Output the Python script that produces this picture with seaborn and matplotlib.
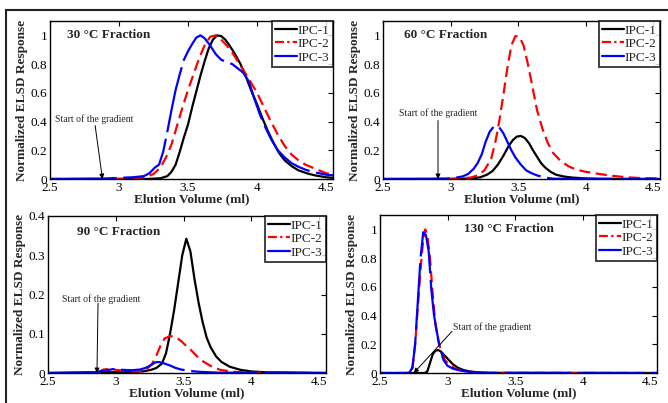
import matplotlib
matplotlib.use("Agg")
import matplotlib.pyplot as plt
from matplotlib.lines import Line2D
from matplotlib.patches import Rectangle
import seaborn as sns

# ---------------- data: elution volume (ml) vs normalized ELSD response ----------------
# 30 °C fraction
f30_ipc1_x = [2.5, 3.0, 3.2, 3.3, 3.35, 3.38, 3.41, 3.44, 3.47, 3.50, 3.53, 3.56, 3.59, 3.62, 3.65, 3.68,
              3.71, 3.74, 3.77, 3.80, 3.84, 3.88, 3.92, 3.96, 4.00, 4.04, 4.08, 4.12, 4.16, 4.20, 4.25,
              4.30, 4.36, 4.42, 4.50, 4.55]
f30_ipc1_y = [0, 0, 0, 0.005, 0.02, 0.05, 0.10, 0.19, 0.29, 0.38, 0.50, 0.61, 0.72, 0.82, 0.91, 0.97,
              1.0, 0.995, 0.97, 0.93, 0.87, 0.80, 0.71, 0.61, 0.52, 0.42, 0.33, 0.25, 0.18, 0.13, 0.09,
              0.06, 0.04, 0.025, 0.012, 0.008]
f30_ipc2_x = [2.5, 2.9, 3.1, 3.2, 3.25, 3.30, 3.34, 3.38, 3.42, 3.46, 3.50, 3.54, 3.58, 3.62, 3.66, 3.70,
              3.74, 3.78, 3.82, 3.86, 3.90, 3.95, 4.00, 4.05, 4.10, 4.15, 4.20, 4.25, 4.30, 4.35, 4.40,
              4.45, 4.50, 4.55]
f30_ipc2_y = [0, 0, 0.003, 0.015, 0.035, 0.08, 0.15, 0.24, 0.37, 0.50, 0.62, 0.73, 0.84, 0.93, 0.99, 1.0,
              0.97, 0.93, 0.88, 0.82, 0.76, 0.68, 0.60, 0.50, 0.40, 0.31, 0.23, 0.17, 0.13, 0.10, 0.08,
              0.06, 0.04, 0.03]
f30_ipc3_x = [2.5, 2.9, 3.0, 3.1, 3.18, 3.22, 3.26, 3.29, 3.32, 3.35, 3.38, 3.41, 3.44, 3.47, 3.50, 3.53,
              3.56, 3.59, 3.62, 3.66, 3.70, 3.74, 3.78, 3.82, 3.86, 3.90, 3.94, 3.98, 4.02, 4.06, 4.10,
              4.15, 4.20, 4.25, 4.30, 4.35, 4.40, 4.45, 4.50, 4.55]
f30_ipc3_y = [0, 0.003, 0.008, 0.012, 0.02, 0.04, 0.08, 0.10, 0.19, 0.33, 0.48, 0.62, 0.73, 0.83, 0.89, 0.94,
              0.985, 1.0, 0.98, 0.93, 0.87, 0.83, 0.815, 0.80, 0.77, 0.74, 0.68, 0.56, 0.45, 0.36, 0.28,
              0.20, 0.15, 0.11, 0.085, 0.065, 0.05, 0.04, 0.03, 0.025]

# 60 °C fraction
f60_ipc1_x = [2.5, 3.0, 3.15, 3.22, 3.27, 3.31, 3.35, 3.39, 3.43, 3.46, 3.49, 3.52, 3.55, 3.58, 3.61, 3.64,
              3.67, 3.70, 3.74, 3.78, 3.84, 3.90, 4.0, 4.1, 4.55]
f60_ipc1_y = [0, 0, 0.003, 0.012, 0.03, 0.055, 0.10, 0.16, 0.23, 0.27, 0.295, 0.30, 0.285, 0.25, 0.20, 0.155,
              0.11, 0.08, 0.05, 0.03, 0.017, 0.01, 0.004, 0.001, 0]
f60_ipc2_x = [2.5, 2.85, 3.05, 3.15, 3.20, 3.25, 3.30, 3.33, 3.36, 3.39, 3.42, 3.45, 3.48, 3.51, 3.54, 3.57,
              3.60, 3.64, 3.68, 3.72, 3.76, 3.81, 3.87, 3.93, 4.00, 4.10, 4.20, 4.30, 4.40, 4.55]
f60_ipc2_y = [0, 0, 0.003, 0.01, 0.025, 0.06, 0.14, 0.25, 0.40, 0.58, 0.77, 0.93, 0.995, 0.99, 0.93, 0.81,
              0.67, 0.48, 0.35, 0.25, 0.18, 0.13, 0.09, 0.065, 0.05, 0.035, 0.022, 0.012, 0.007, 0.004]
f60_ipc3_x = [2.5, 2.95, 3.03, 3.09, 3.13, 3.17, 3.20, 3.23, 3.26, 3.29, 3.32, 3.34, 3.36, 3.39, 3.42, 3.45,
              3.48, 3.52, 3.56, 3.60, 3.64, 3.70, 3.76, 4.55]
f60_ipc3_y = [0, 0.002, 0.008, 0.018, 0.035, 0.07, 0.11, 0.17, 0.26, 0.33, 0.365, 0.37, 0.36, 0.32, 0.26, 0.20,
              0.15, 0.10, 0.06, 0.04, 0.025, 0.01, 0.002, 0]

# 90 °C fraction
f90_ipc1_x = [2.5, 2.95, 3.1, 3.2, 3.26, 3.30, 3.34, 3.37, 3.40, 3.43, 3.46, 3.49, 3.52, 3.55, 3.58, 3.61,
              3.64, 3.67, 3.70, 3.74, 3.78, 3.84, 3.92, 4.0, 4.1, 4.55]
f90_ipc1_y = [0, 0.002, 0.002, 0.004, 0.008, 0.013, 0.024, 0.05, 0.10, 0.16, 0.23, 0.30, 0.342, 0.31, 0.24, 0.18,
              0.13, 0.09, 0.065, 0.042, 0.028, 0.016, 0.008, 0.004, 0.002, 0]
f90_ipc2_x = [2.5, 2.85, 2.88, 2.91, 2.95, 3.0, 3.1, 3.18, 3.23, 3.27, 3.30, 3.33, 3.36, 3.40, 3.44, 3.48,
              3.51, 3.55, 3.60, 3.65, 3.70, 3.77, 3.87, 4.0, 4.55]
f90_ipc2_y = [0, 0, 0.004, 0.009, 0.01, 0.008, 0.004, 0.004, 0.01, 0.025, 0.045, 0.07, 0.088, 0.094, 0.092, 0.082,
              0.072, 0.06, 0.042, 0.028, 0.018, 0.008, 0.003, 0.001, 0]
f90_ipc3_x = [2.5, 2.85, 2.95, 2.98, 3.05, 3.12, 3.18, 3.22, 3.26, 3.29, 3.32, 3.36, 3.40, 3.44, 3.48, 3.55,
              3.62, 3.75, 4.55]
f90_ipc3_y = [0, 0.002, 0.008, 0.01, 0.008, 0.007, 0.009, 0.013, 0.02, 0.027, 0.028, 0.024, 0.019, 0.013, 0.009,
              0.005, 0.003, 0.001, 0]

# 130 °C fraction
f130_ipc1_x = [2.5, 2.83, 2.85, 2.87, 2.89, 2.91, 2.93, 2.95, 2.97, 3.00, 3.04, 3.08, 3.12, 3.17, 3.22, 3.3, 4.55]
f130_ipc1_y = [0, 0, 0.01, 0.07, 0.13, 0.155, 0.16, 0.15, 0.13, 0.10, 0.06, 0.035, 0.02, 0.01, 0.005, 0.001, 0]
f130_ipc2_x = [2.5, 2.70, 2.72, 2.74, 2.76, 2.78, 2.80, 2.82, 2.835, 2.85, 2.87, 2.89, 2.91, 2.93, 2.95, 2.98,
               3.02, 3.07, 3.13, 3.20, 3.3, 4.55]
f130_ipc2_y = [0, 0, 0.005, 0.03, 0.2, 0.46, 0.72, 0.93, 1.0, 0.96, 0.80, 0.55, 0.34, 0.23, 0.16, 0.09,
               0.05, 0.026, 0.012, 0.005, 0.001, 0]
f130_ipc3_x = [2.5, 2.70, 2.72, 2.74, 2.76, 2.78, 2.80, 2.82, 2.84, 2.86, 2.88, 2.90, 2.92, 2.94, 2.97, 3.00,
               3.04, 3.09, 3.14, 3.22, 3.3, 4.55]
f130_ipc3_y = [0, 0, 0.005, 0.04, 0.2, 0.5, 0.8, 0.98, 0.96, 0.85, 0.58, 0.40, 0.29, 0.19, 0.09, 0.05,
               0.03, 0.018, 0.01, 0.004, 0.001, 0]

series_names = ["IPC-1", "IPC-2", "IPC-3"]
panel_titles = ["30 °C Fraction", "60 °C Fraction", "90 °C Fraction", "130 °C Fraction"]
x_ticks = [2.5, 3, 3.5, 4, 4.5]
x_tick_labels = ["2.5", "3", "3.5", "4", "4.5"]
y_ticks_full = [0, 0.2, 0.4, 0.6, 0.8, 1.0]
y_tick_labels_full = ["0", "0.2", "0.4", "0.6", "0.8", "1"]
y_ticks_90 = [0, 0.1, 0.2, 0.3, 0.4]
y_tick_labels_90 = ["0", "0.1", "0.2", "0.3", "0.4"]
gradient_label = "Start of the gradient"

# ---------------- styling ----------------
sns.set_style("white")
plt.rcParams["font.family"] = ["Liberation Serif", "DejaVu Serif"]
plt.rcParams["mathtext.fontset"] = "stix"

W, H = 668, 403
fig = plt.figure(figsize=(W / 100, H / 100), dpi=100)


def px_axes(left, top, right, bottom):
    return fig.add_axes([left / W, 1 - bottom / H, (right - left) / W, (bottom - top) / H])


colors = ["black", "red", "blue"]
styles = ["-", (0, (5, 2.5)), (0, (30, 3))]

panels = [
    dict(box=(50, 21, 333, 179), data=[(f30_ipc1_x, f30_ipc1_y), (f30_ipc2_x, f30_ipc2_y), (f30_ipc3_x, f30_ipc3_y)],
         ylim=1.1, yt=(y_ticks_full, y_tick_labels_full), title_xy=(2.624, 1.0),
         text_xy=(2.536, 0.414), tail=(2.827, 0.372), head=(2.88, 0.0)),
    dict(box=(383, 21, 660, 179), data=[(f60_ipc1_x, f60_ipc1_y), (f60_ipc2_x, f60_ipc2_y), (f60_ipc3_x, f60_ipc3_y)],
         ylim=1.1, yt=(y_ticks_full, y_tick_labels_full), title_xy=(2.655, 1.0),
         text_xy=(2.618, 0.455), tail=(2.907, 0.407), head=(2.907, 0.0)),
    dict(box=(48, 216, 326, 373), data=[(f90_ipc1_x, f90_ipc1_y), (f90_ipc2_x, f90_ipc2_y), (f90_ipc3_x, f90_ipc3_y)],
         ylim=0.4, yt=(y_ticks_90, y_tick_labels_90), title_xy=(2.714, 0.359),
         text_xy=(2.603, 0.189), tail=(2.869, 0.178), head=(2.861, 0.0)),
    dict(box=(380, 215, 657, 373), data=[(f130_ipc1_x, f130_ipc1_y), (f130_ipc2_x, f130_ipc2_y), (f130_ipc3_x, f130_ipc3_y)],
         ylim=1.1, yt=(y_ticks_full, y_tick_labels_full), title_xy=(3.12, 1.0),
         text_xy=(3.04, 0.32), tail=(3.033, 0.29), head=(2.75, 0.0)),
]

legend_handles = [
    Line2D([], [], color="black", lw=1.6, ls="-"),
    Line2D([], [], color="red", lw=1.6, ls=(0, (4, 1.5, 1, 1.5))),
    Line2D([], [], color="blue", lw=1.6, ls="-"),
]

for p, title in zip(panels, panel_titles):
    ax = px_axes(*p["box"])
    for (xs, ys), c, s in zip(p["data"], colors, styles):
        sns.lineplot(x=xs, y=ys, ax=ax, color=c, linewidth=1.6, linestyle=s,
                     sort=False, estimator=None, legend=False)
    ax.set_xlim(2.5, 4.55)
    ax.set_ylim(0, p["ylim"])
    ax.set_xticks(x_ticks)
    ax.set_xticklabels(x_tick_labels)
    ax.set_yticks(p["yt"][0])
    ax.set_yticklabels(p["yt"][1])
    ax.tick_params(direction="in", length=3.5, width=0.8, top=True, right=True,
                   labelsize=9.5, pad=2, colors="black")
    for sp in ax.spines.values():
        sp.set_color("black")
        sp.set_linewidth(1.0)
    ax.set_xlabel("Elution Volume (ml)", fontsize=9.5, fontweight="bold", labelpad=0)
    ax.set_ylabel("Normalized ELSD Response", fontsize=9.5, fontweight="bold", labelpad=2)
    ax.text(*p["title_xy"], title, fontsize=9.5, fontweight="bold", ha="left", va="center")
    ax.text(*p["text_xy"], gradient_label, fontsize=7, ha="left", va="center")
    ax.annotate("", xy=p["head"], xytext=p["tail"],
                arrowprops=dict(arrowstyle="-|>", color="black", lw=0.7,
                                mutation_scale=7, shrinkA=0, shrinkB=0))
    leg = ax.legend(legend_handles, series_names, loc="upper right", fontsize=9.5,
                    frameon=True, fancybox=False, borderpad=0.25, labelspacing=0.1,
                    handlelength=1.6, handletextpad=0.1, borderaxespad=0)
    leg.get_frame().set_edgecolor("black")
    leg.get_frame().set_linewidth(1.3)

# outer frame around the figure group
fig.add_artist(Rectangle((6 / W, -0.1), 1.2, 1 - 10 / H + 0.1, transform=fig.transFigure,
                         fill=False, edgecolor="#222222", linewidth=1.5))

fig.savefig("out.png", dpi=100)
